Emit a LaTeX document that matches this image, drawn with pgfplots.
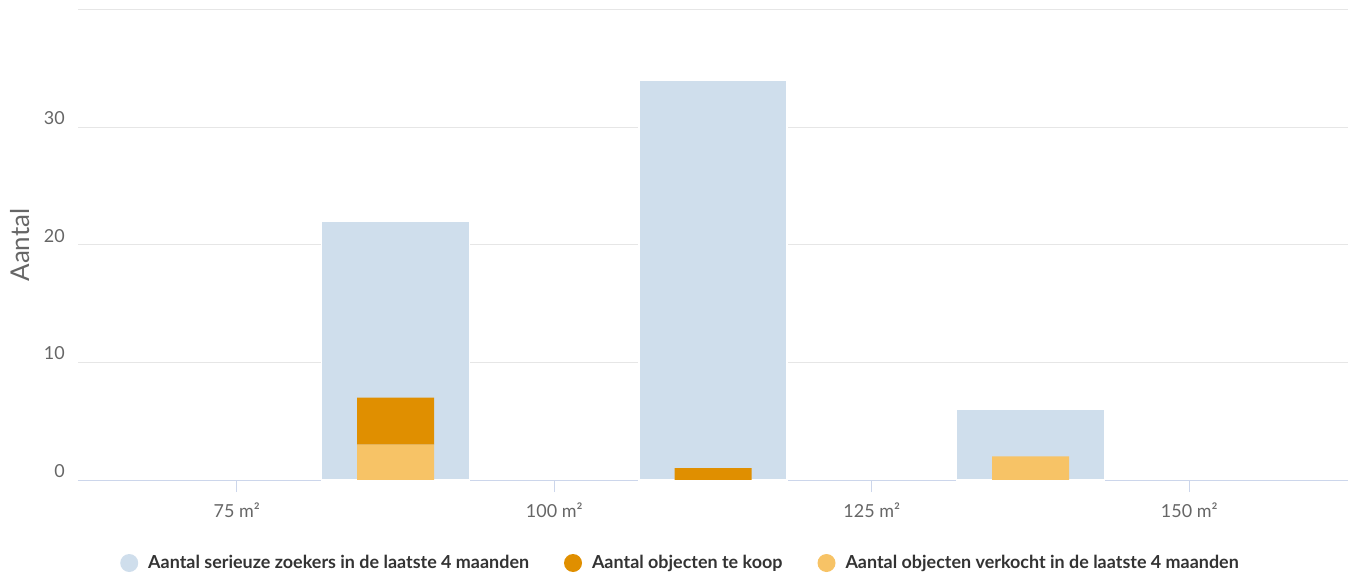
\documentclass[border=0pt]{standalone}
\usepackage{pgfplots}
\pgfplotsset{compat=1.18}
\usepackage{fontspec}
\setmainfont{Lato}

\definecolor{cBlue}{HTML}{CFDEEC}
\definecolor{cDark}{HTML}{E08F00}
\definecolor{cLight}{HTML}{F7C366}
\definecolor{gridC}{HTML}{E6E6E6}
\definecolor{axisC}{HTML}{CCD6EB}
\definecolor{tickC}{HTML}{666666}
\definecolor{legC}{HTML}{333333}

\begin{document}
\begin{tikzpicture}
\useasboundingbox (-78bp,-96bp) rectangle (1274bp,480bp);

% main axis: grid, ticks, seekers bars, legend
\begin{axis}[
    at={(0,0)}, anchor=south west,
    scale only axis, width=1270bp, height=470bp,
    xmin=62.5, xmax=162.5, ymin=0, ymax=40,
    axis x line*=bottom, axis y line*=left,
    y axis line style={draw=none},
    x axis line style={-, draw=axisC, line width=1bp},
    xtick={75,100,125,150},
    xticklabels={75 m², 100 m², 125 m², 150 m²},
    ytick={0,10,20,30,40},
    yticklabels={0,10,20,30,{}},
    ymajorgrids,
    grid style={draw=gridC, line width=1bp},
    tick align=outside,
    major tick length=12bp,
    x tick style={draw=axisC, line width=1bp},
    y tick style={draw=none},
    xticklabel style={font=\fontsize{18}{21}\selectfont, text=tickC, anchor=base, inner sep=0pt, yshift=-25bp},
    yticklabel style={font=\fontsize{18}{21}\selectfont, text=tickC, anchor=base east, inner sep=0pt, xshift=-1bp, yshift=3bp},
    ylabel={Aantal},
    ylabel style={at={(axis description cs:-0.0457,0.5)}, anchor=center, font=\fontsize{26}{30}\selectfont, text=tickC},
    legend columns=3,
    legend cell align=left,
    legend image code/.code={\fill[#1, draw=none] (0bp,0bp) circle (9bp);},
    legend style={at={(0.4756,-0.1766)}, anchor=center, draw=none, fill=none,
        font=\bfseries\fontsize{18}{21}\selectfont, text=legC,
        nodes={inner xsep=5bp},
        /tikz/every odd column/.append style={column sep=5bp},
        /tikz/every even column/.append style={column sep=30bp}},
]
\addplot[ybar, bar width=148bp, bar shift=0pt, fill=cBlue, draw=white, line width=1.5bp, forget plot]
    coordinates {(87.5,22) (112.5,34) (137.5,6)};

\addlegendimage{fill=cBlue}
\addlegendentry{Aantal serieuze zoekers in de laatste 4 maanden}
\addlegendimage{fill=cDark}
\addlegendentry{Aantal objecten te koop}
\addlegendimage{fill=cLight}
\addlegendentry{Aantal objecten verkocht in de laatste 4 maanden}
\end{axis}

% overlay axis: stacked objects bars
\begin{axis}[
    at={(0,0)}, anchor=south west,
    scale only axis, width=1270bp, height=470bp,
    xmin=62.5, xmax=162.5, ymin=0, ymax=40,
    hide axis,
    ybar stacked, bar width=77bp,
]
% verkocht in de laatste 4 maanden
\addplot[fill=cLight, draw=none] coordinates {(87.5,3) (112.5,0) (137.5,2)};
% te koop
\addplot[fill=cDark, draw=none] coordinates {(87.5,4) (112.5,1) (137.5,0)};
\end{axis}
\end{tikzpicture}
\end{document}
